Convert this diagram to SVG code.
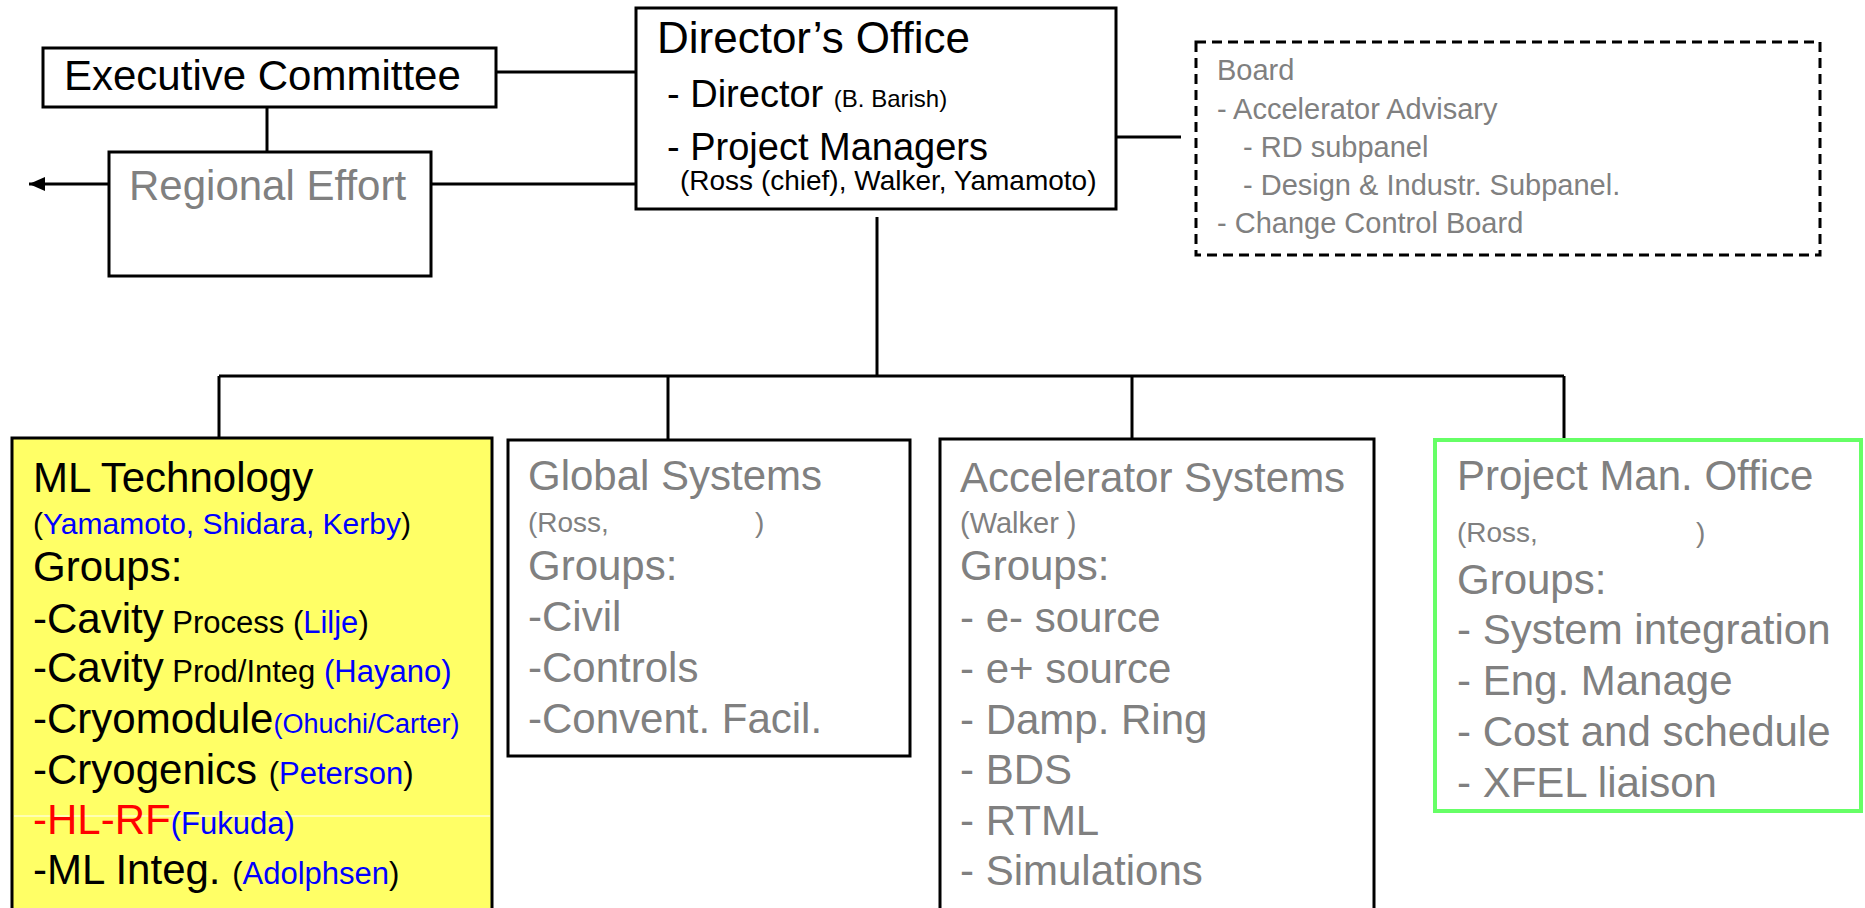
<svg xmlns="http://www.w3.org/2000/svg" width="1865" height="908" viewBox="0 0 1865 908">
<style>
text{font-family:"Liberation Sans",Arial,sans-serif;}
.box{fill:#fff;stroke:#000;stroke-width:3;}
.ln{stroke:#000;stroke-width:3;fill:none;}
.big{font-size:42px;}
.g{fill:#808080;}
.k{fill:#000;}
.b{fill:#0000FF;}
.r{fill:#FF0000;}
.sm{font-size:28px;}
.bd{font-size:29px;fill:#808080;}
</style>
<defs>
<marker id="ah" markerWidth="16" markerHeight="14" refX="16" refY="7" orient="auto" markerUnits="userSpaceOnUse">
<path d="M0,0 L16,7 L0,14 Z" fill="#000"/>
</marker>
</defs>
<rect width="1865" height="908" fill="#fff"/>

<g id="connectors">
<line class="ln" x1="267" y1="104" x2="267" y2="152"/>
<line class="ln" x1="496" y1="72" x2="636" y2="72"/>
<line class="ln" x1="427" y1="184" x2="636" y2="184"/>
<line class="ln" x1="109" y1="184" x2="29" y2="184" marker-end="url(#ah)"/>
<line class="ln" x1="1116" y1="137" x2="1181" y2="137"/>
<line class="ln" x1="877" y1="217" x2="877" y2="376"/>
<line class="ln" x1="219" y1="376" x2="1564" y2="376"/>
<line class="ln" x1="219" y1="376" x2="219" y2="438"/>
<line class="ln" x1="668" y1="376" x2="668" y2="440"/>
<line class="ln" x1="1132" y1="376" x2="1132" y2="439"/>
<line class="ln" x1="1564" y1="376" x2="1564" y2="440"/>
</g>

<g id="executive-committee">
<rect class="box" x="43" y="48" width="453" height="59"/>
<text class="big k" x="64" y="90">Executive Committee</text>
</g>

<g id="regional-effort">
<rect class="box" x="109" y="152" width="322" height="124"/>
<text class="big g" x="129" y="200">Regional Effort</text>
</g>

<g id="directors-office">
<rect class="box" x="636" y="8" width="480" height="201"/>
<text class="k" x="657" y="53" font-size="44">Director’s Office</text>
<text class="k" x="667" y="107" font-size="38">- Director <tspan font-size="24">(B. Barish)</tspan></text>
<text class="k" x="667" y="160" font-size="38">- Project Managers</text>
<text class="k" x="680" y="190" font-size="28">(Ross (chief), Walker, Yamamoto)</text>
</g>

<g id="board">
<rect x="1196" y="42" width="624" height="213" fill="#fff" stroke="#000" stroke-width="3" stroke-dasharray="10,6"/>
<text class="bd" x="1217" y="80">Board</text>
<text class="bd" x="1217" y="119">- Accelerator Advisary</text>
<text class="bd" x="1243" y="157">- RD subpanel</text>
<text class="bd" x="1243" y="195">- Design &amp; Industr. Subpanel.</text>
<text class="bd" x="1217" y="233">- Change Control Board</text>
</g>

<g id="ml-technology">
<rect x="12" y="438" width="480" height="476" fill="#FFFF66" stroke="#000" stroke-width="3"/>
<line x1="14" y1="816" x2="490" y2="816" stroke="#fff" stroke-width="1"/>
<text class="big k" x="33" y="492">ML Technology</text>
<text class="k" x="33" y="534" font-size="30">(<tspan class="b">Yamamoto, Shidara, Kerby</tspan>)</text>
<text class="big k" x="33" y="581">Groups:</text>
<text class="big k" x="33" y="633">-Cavity<tspan font-size="31"> Process  (<tspan class="b">Lilje</tspan>)</tspan></text>
<text class="big k" x="33" y="682">-Cavity<tspan font-size="31"> Prod/Integ <tspan class="b">(Hayano)</tspan></tspan></text>
<text class="big k" x="33" y="733">-Cryomodule<tspan class="b" font-size="27">(Ohuchi/Carter)</tspan></text>
<text class="big k" x="33" y="784">-Cryogenics <tspan font-size="31">(<tspan class="b">Peterson</tspan>)</tspan></text>
<text class="big r" x="33" y="834">-HL-RF<tspan class="b" font-size="31">(Fukuda)</tspan></text>
<text class="big k" x="33" y="884">-ML Integ. <tspan font-size="31">(<tspan class="b">Adolphsen</tspan>)</tspan></text>
</g>

<g id="global-systems">
<rect class="box" x="508" y="440" width="402" height="316"/>
<text class="big g" x="528" y="490">Global Systems</text>
<text class="sm g" x="528" y="532">(Ross,</text>
<text class="sm g" x="755" y="532">)</text>
<text class="big g" x="528" y="580">Groups:</text>
<text class="big g" x="528" y="631">-Civil</text>
<text class="big g" x="528" y="682">-Controls</text>
<text class="big g" x="528" y="733">-Convent. Facil.</text>
</g>

<g id="accelerator-systems">
<rect class="box" x="940" y="439" width="434" height="475"/>
<text class="big g" x="960" y="492">Accelerator Systems</text>
<text class="g" x="960" y="533" font-size="29">(Walker )</text>
<text class="big g" x="960" y="580">Groups:</text>
<text class="big g" x="960" y="632">- e- source</text>
<text class="big g" x="960" y="683">- e+ source</text>
<text class="big g" x="960" y="734">- Damp. Ring</text>
<text class="big g" x="960" y="784">- BDS</text>
<text class="big g" x="960" y="835">- RTML</text>
<text class="big g" x="960" y="885">- Simulations</text>
</g>

<g id="project-man-office">
<rect x="1435" y="440" width="426" height="371" fill="#fff" stroke="#66FF66" stroke-width="4"/>
<text class="big g" x="1457" y="490">Project Man. Office</text>
<text class="sm g" x="1457" y="542">(Ross,</text>
<text class="sm g" x="1696" y="542">)</text>
<text class="big g" x="1457" y="594">Groups:</text>
<text class="big g" x="1457" y="644">- System integration</text>
<text class="big g" x="1457" y="695">- Eng. Manage</text>
<text class="big g" x="1457" y="746">- Cost and schedule</text>
<text class="big g" x="1457" y="797">- XFEL liaison</text>
</g>
</svg>
